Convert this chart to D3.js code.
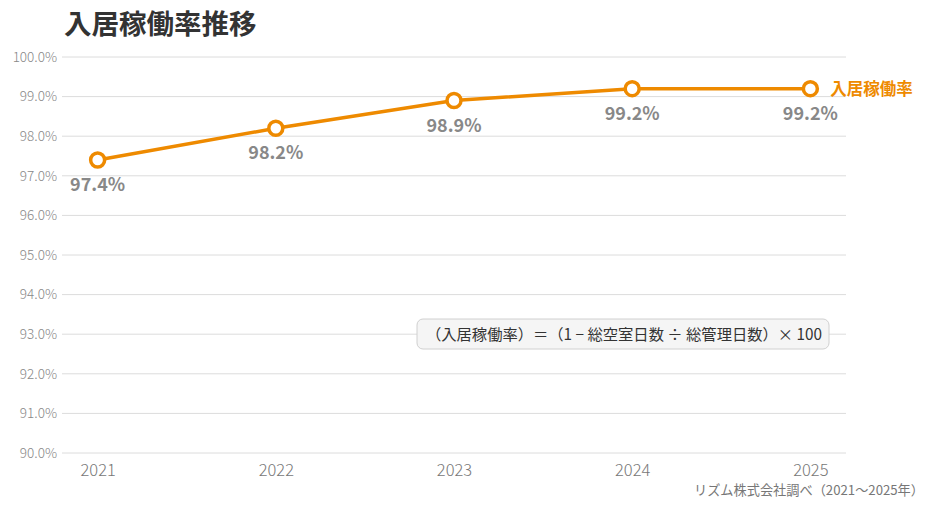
<!DOCTYPE html>
<html>
<head>
<meta charset="utf-8">
<script src="https://cdn.jsdelivr.net/npm/d3@7"></script>
<style>
  body { margin: 0; background: #fff; }
  svg { font-family: "Noto Sans CJK JP", "Noto Sans", sans-serif; }
</style>
</head>
<body>
<svg id="chart" width="936" height="508"></svg>
<script>
// data
const years = ["2021", "2022", "2023", "2024", "2025"];
const rates = [97.4, 98.2, 98.9, 99.2, 99.2];
const yTicks = [90, 91, 92, 93, 94, 95, 96, 97, 98, 99, 100];
const seriesName = "入居稼働率";

const orange = "#ee8a00";
const fontCJK = "Noto Sans CJK JP";
const svg = d3.select("#chart");

const plotLeft = 62, plotRight = 846, plotTop = 57, plotBottom = 453;

const x = d3.scalePoint()
  .domain(years)
  .range([plotLeft, plotRight])
  .padding(0.2);

const y = d3.scaleLinear()
  .domain([90, 100])
  .range([plotBottom, plotTop]);

// title
svg.append("text")
  .attr("x", 64)
  .attr("y", 34)
  .text("入居稼働率推移")
  .attr("font-size", 27.5)
  .attr("font-weight", "bold")
  .attr("fill", "#333");

// grid
svg.append("g")
  .selectAll("line")
  .data(yTicks)
  .join("line")
    .attr("x1", plotLeft)
    .attr("x2", plotRight)
    .attr("y1", d => y(d))
    .attr("y2", d => y(d))
    .attr("stroke", "#dcdcdc")
    .attr("stroke-width", 1);

// y axis labels
const yAxis = svg.append("g")
  .attr("transform", `translate(${plotLeft},0)`)
  .call(d3.axisLeft(y).tickValues(yTicks).tickFormat(d => d.toFixed(1) + "%").tickSize(0).tickPadding(5))
  .attr("font-family", fontCJK);
yAxis.select(".domain").remove();
yAxis.selectAll("text")
  .attr("font-size", 13.5)
  .attr("font-weight", 300)
  .attr("fill", "#888");

// x axis labels
const xAxis = svg.append("g")
  .attr("transform", `translate(0,${plotBottom})`)
  .call(d3.axisBottom(x).tickSize(0).tickPadding(11))
  .attr("font-family", fontCJK);
xAxis.select(".domain").remove();
xAxis.selectAll("text")
  .attr("font-size", 16.5)
  .attr("font-weight", 300)
  .attr("fill", "#777");

// formula box
const box = svg.append("g").attr("transform", "translate(417,319)");
box.append("rect")
  .attr("width", 412)
  .attr("height", 30)
  .attr("rx", 6)
  .attr("fill", "#f5f5f5")
  .attr("stroke", "#d0d0d0");
box.append("text")
  .attr("x", 207)
  .attr("y", 20.5)
  .attr("text-anchor", "middle")
  .attr("font-size", 15.3)
  .attr("fill", "#333")
  .text("（入居稼働率）＝（1 − 総空室日数 ÷ 総管理日数）× 100");

// line
const line = d3.line()
  .x((d, i) => x(years[i]))
  .y(d => y(d));

svg.append("path")
  .datum(rates)
  .attr("d", line)
  .attr("fill", "none")
  .attr("stroke", orange)
  .attr("stroke-width", 3.5);

svg.append("g")
  .selectAll("circle")
  .data(rates)
  .join("circle")
    .attr("cx", (d, i) => x(years[i]))
    .attr("cy", d => y(d))
    .attr("r", 7)
    .attr("fill", "#fff")
    .attr("stroke", orange)
    .attr("stroke-width", 3.5);

// value labels
svg.append("g")
  .selectAll("text")
  .data(rates)
  .join("text")
    .attr("x", (d, i) => x(years[i]))
    .attr("y", d => y(d) + 31)
    .attr("text-anchor", "middle")
    .attr("font-size", 18)
    .attr("font-weight", "bold")
    .attr("fill", "#888")
    .text(d => d.toFixed(1) + "%");

// series label
svg.append("text")
  .attr("x", x(years[years.length - 1]) + 20)
  .attr("y", y(rates[rates.length - 1]) + 6)
  .attr("font-size", 16.5)
  .attr("font-weight", "bold")
  .attr("fill", orange)
  .text(seriesName);

// source
svg.append("text")
  .attr("x", 924)
  .attr("y", 495)
  .attr("text-anchor", "end")
  .attr("font-size", 13.2)
  .attr("fill", "#777")
  .text("リズム株式会社調べ（2021〜2025年）");
</script>
</body>
</html>
